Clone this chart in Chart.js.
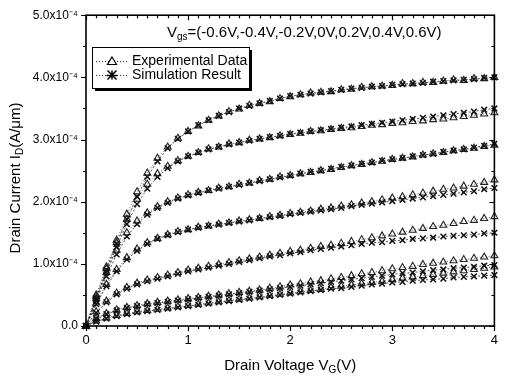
<!DOCTYPE html>
<html>
<head>
<meta charset="utf-8">
<script src="https://cdn.jsdelivr.net/npm/chart.js@4.4.1/dist/chart.umd.min.js"></script>
<style>
html, body { margin: 0; padding: 0; background: #fff; }
#grafico { display: block; }
</style>
</head>
<body>
<canvas id="grafico" width="505" height="381"></canvas>
<script>
// drain voltage sweep (V)
var vd = [0, 0.1, 0.2, 0.3, 0.4, 0.5, 0.6, 0.7, 0.8, 0.9, 1.0, 1.1, 1.2, 1.3, 1.4, 1.5, 1.6, 1.7, 1.8, 1.9, 2.0,
          2.1, 2.2, 2.3, 2.4, 2.5, 2.6, 2.7, 2.8, 2.9, 3.0, 3.1, 3.2, 3.3, 3.4, 3.5, 3.6, 3.7, 3.8, 3.9, 4.0];

// drain current, in units of 1e-4 A/um
var exp06 = [0, 0.5, 0.95, 1.38, 1.8, 2.16, 2.46, 2.7, 2.88, 3.02, 3.13, 3.22, 3.31, 3.38, 3.45, 3.49, 3.55, 3.58, 3.61, 3.66, 3.69, 3.72, 3.75, 3.76, 3.77, 3.8, 3.81, 3.84, 3.85, 3.86, 3.87, 3.9, 3.9, 3.92, 3.92, 3.94, 3.96, 3.95, 3.98, 3.98, 4.0];
var sim06 = [0, 0.45, 0.9, 1.32, 1.72, 2.08, 2.4, 2.65, 2.86, 3.01, 3.13, 3.23, 3.31, 3.38, 3.44, 3.5, 3.54, 3.58, 3.62, 3.66, 3.7, 3.72, 3.74, 3.76, 3.78, 3.8, 3.82, 3.83, 3.85, 3.86, 3.88, 3.89, 3.9, 3.91, 3.93, 3.94, 3.95, 3.96, 3.97, 3.99, 4.0];
var exp04 = [0, 0.47, 0.92, 1.34, 1.72, 2.04, 2.28, 2.45, 2.57, 2.66, 2.73, 2.79, 2.85, 2.88, 2.93, 2.95, 2.99, 3.01, 3.03, 3.06, 3.08, 3.1, 3.13, 3.14, 3.16, 3.18, 3.19, 3.21, 3.23, 3.24, 3.26, 3.27, 3.29, 3.3, 3.32, 3.33, 3.35, 3.37, 3.39, 3.41, 3.43];
var sim04 = [0, 0.43, 0.86, 1.27, 1.64, 1.96, 2.21, 2.4, 2.54, 2.65, 2.73, 2.79, 2.84, 2.88, 2.92, 2.95, 2.98, 3.01, 3.04, 3.06, 3.09, 3.11, 3.13, 3.15, 3.17, 3.19, 3.21, 3.23, 3.25, 3.27, 3.29, 3.31, 3.33, 3.35, 3.37, 3.39, 3.41, 3.43, 3.45, 3.48, 3.5];
var exp02 = [0, 0.44, 0.86, 1.22, 1.5, 1.69, 1.82, 1.92, 2.0, 2.06, 2.11, 2.15, 2.18, 2.22, 2.24, 2.28, 2.3, 2.34, 2.36, 2.4, 2.42, 2.45, 2.47, 2.5, 2.52, 2.55, 2.58, 2.6, 2.63, 2.65, 2.68, 2.7, 2.72, 2.75, 2.77, 2.79, 2.82, 2.84, 2.86, 2.89, 2.91];
var sim02 = [0, 0.4, 0.8, 1.15, 1.44, 1.64, 1.79, 1.9, 1.98, 2.05, 2.1, 2.14, 2.18, 2.21, 2.24, 2.27, 2.3, 2.33, 2.36, 2.39, 2.42, 2.45, 2.48, 2.5, 2.53, 2.56, 2.58, 2.61, 2.63, 2.66, 2.68, 2.7, 2.73, 2.75, 2.77, 2.8, 2.82, 2.84, 2.87, 2.9, 2.93];
var exp00 = [0, 0.37, 0.67, 0.91, 1.1, 1.24, 1.34, 1.41, 1.47, 1.52, 1.55, 1.59, 1.61, 1.64, 1.66, 1.69, 1.71, 1.73, 1.76, 1.78, 1.81, 1.83, 1.85, 1.88, 1.9, 1.93, 1.95, 1.98, 2.0, 2.03, 2.06, 2.08, 2.11, 2.14, 2.17, 2.2, 2.22, 2.25, 2.28, 2.31, 2.35];
var sim00 = [0, 0.35, 0.64, 0.88, 1.07, 1.21, 1.32, 1.4, 1.46, 1.51, 1.55, 1.58, 1.61, 1.63, 1.66, 1.68, 1.7, 1.73, 1.75, 1.77, 1.8, 1.82, 1.84, 1.86, 1.88, 1.9, 1.93, 1.95, 1.97, 1.99, 2.01, 2.03, 2.05, 2.07, 2.09, 2.11, 2.13, 2.15, 2.17, 2.2, 2.22];
var expM02 = [0, 0.23, 0.4, 0.53, 0.62, 0.69, 0.74, 0.78, 0.82, 0.86, 0.9, 0.93, 0.96, 0.99, 1.02, 1.05, 1.08, 1.11, 1.14, 1.17, 1.2, 1.22, 1.25, 1.28, 1.3, 1.33, 1.36, 1.39, 1.42, 1.45, 1.48, 1.51, 1.54, 1.57, 1.6, 1.62, 1.65, 1.68, 1.7, 1.73, 1.76];
var simM02 = [0, 0.21, 0.38, 0.51, 0.6, 0.67, 0.72, 0.76, 0.8, 0.84, 0.88, 0.91, 0.94, 0.97, 1.0, 1.03, 1.06, 1.09, 1.12, 1.14, 1.17, 1.19, 1.22, 1.24, 1.26, 1.28, 1.3, 1.32, 1.34, 1.35, 1.37, 1.38, 1.4, 1.41, 1.42, 1.44, 1.45, 1.46, 1.47, 1.49, 1.5];
var expM04 = [0, 0.12, 0.2, 0.26, 0.3, 0.33, 0.36, 0.38, 0.4, 0.42, 0.44, 0.46, 0.48, 0.5, 0.52, 0.54, 0.56, 0.58, 0.61, 0.63, 0.66, 0.68, 0.71, 0.73, 0.76, 0.78, 0.81, 0.84, 0.86, 0.89, 0.92, 0.94, 0.96, 0.99, 1.01, 1.03, 1.05, 1.07, 1.09, 1.11, 1.13];
var simM04 = [0, 0.11, 0.19, 0.25, 0.29, 0.32, 0.35, 0.37, 0.39, 0.41, 0.43, 0.45, 0.47, 0.49, 0.51, 0.53, 0.55, 0.57, 0.59, 0.61, 0.63, 0.65, 0.67, 0.69, 0.71, 0.73, 0.75, 0.77, 0.79, 0.81, 0.83, 0.85, 0.86, 0.88, 0.9, 0.91, 0.93, 0.94, 0.95, 0.97, 0.98];
var expM06 = [0, 0.08, 0.13, 0.17, 0.2, 0.23, 0.25, 0.27, 0.29, 0.31, 0.33, 0.35, 0.37, 0.39, 0.41, 0.43, 0.45, 0.47, 0.49, 0.51, 0.53, 0.55, 0.57, 0.59, 0.62, 0.64, 0.66, 0.68, 0.7, 0.72, 0.75, 0.77, 0.79, 0.81, 0.83, 0.85, 0.87, 0.89, 0.91, 0.93, 0.95];
var simM06 = [0, 0.07, 0.12, 0.16, 0.19, 0.22, 0.24, 0.26, 0.28, 0.3, 0.32, 0.34, 0.36, 0.38, 0.4, 0.42, 0.44, 0.46, 0.48, 0.5, 0.52, 0.54, 0.56, 0.58, 0.6, 0.61, 0.63, 0.65, 0.67, 0.68, 0.7, 0.71, 0.73, 0.74, 0.75, 0.76, 0.78, 0.79, 0.8, 0.81, 0.82];

var xLabels = ['0', '1', '2', '3', '4'];
var yLabels = ['0.0', '1.0x10\u207B\u2074', '2.0x10\u207B\u2074', '3.0x10\u207B\u2074', '4.0x10\u207B\u2074', '5.0x10\u207B\u2074'];
var vgsText = '=(-0.6V,-0.4V,-0.2V,0V,0.2V,0.4V,0.6V)';
var legendText = ['Experimental Data', 'Simulation Result'];

var experimental = [expM06, expM04, expM02, exp00, exp02, exp04, exp06];
var simulacion = [simM06, simM04, simM02, sim00, sim02, sim04, sim06];

var FAM = '"Liberation Sans", Arial, sans-serif';
Chart.defaults.font.family = FAM;
Chart.defaults.color = '#000';

function puntos(arr) {
    return vd.map(function (v, i) { return { x: v, y: arr[i] }; });
}

var datasets = [];
simulacion.forEach(function (serie) {
    datasets.push({
        data: puntos(serie),
        showLine: true,
        borderColor: '#222',
        borderWidth: 0.8,
        borderDash: [2, 2],
        pointStyle: 'crossRot',
        pointRadius: 4,
        pointBorderWidth: 1.5,
        pointBorderColor: '#111',
        pointBackgroundColor: '#111',
        clip: false
    });
});
experimental.forEach(function (serie) {
    datasets.push({
        data: puntos(serie),
        showLine: true,
        borderColor: '#444',
        borderWidth: 0.8,
        borderDash: [1, 2],
        pointStyle: 'triangle',
        pointRadius: 4,
        pointBorderWidth: 1.1,
        pointBorderColor: '#222',
        pointBackgroundColor: 'rgba(255,255,255,0)',
        clip: false
    });
});

// text with subscript pieces: [[text, isSub], ...]
function textoSub(ctx, partes, x, y, size, align) {
    var subSize = Math.round(size * 0.68);
    var ancho = 0;
    partes.forEach(function (p) {
        ctx.font = (p[1] ? subSize : size) + 'px ' + FAM;
        ancho += ctx.measureText(p[0]).width;
    });
    var cx = align === 'center' ? x - ancho / 2 : x;
    ctx.textAlign = 'left';
    ctx.textBaseline = 'middle';
    partes.forEach(function (p) {
        ctx.font = (p[1] ? subSize : size) + 'px ' + FAM;
        ctx.fillText(p[0], cx, p[1] ? y + size * 0.3 : y);
        cx += ctx.measureText(p[0]).width;
    });
}

var marco = {
    id: 'marco',
    afterDraw: function (chart) {
        var ctx = chart.ctx;
        var a = chart.chartArea;
        var sx = chart.scales.x, sy = chart.scales.y;
        ctx.save();
        ctx.strokeStyle = '#000';
        ctx.fillStyle = '#000';

        // frame
        ctx.lineWidth = 1.6;
        ctx.strokeRect(a.left, a.top, a.right - a.left, a.bottom - a.top);

        // tick marks: outward on bottom/left, inward on top/right
        ctx.lineWidth = 1.2;
        ctx.beginPath();
        for (var i = 0; i <= 40; i++) {
            var px = Math.round(sx.getPixelForValue(i / 10)) + 0.5;
            var len = (i % 10 === 0) ? 5 : 3;
            ctx.moveTo(px, a.bottom); ctx.lineTo(px, a.bottom + len);
            ctx.moveTo(px, a.top); ctx.lineTo(px, a.top + len);
        }
        for (var j = 0; j <= 10; j++) {
            var py = Math.round(sy.getPixelForValue(j / 2)) + 0.5;
            var l2 = (j % 2 === 0) ? 5 : 3;
            ctx.moveTo(a.left, py); ctx.lineTo(a.left - l2, py);
            ctx.moveTo(a.right, py); ctx.lineTo(a.right - l2, py);
        }
        ctx.stroke();

        // axis titles
        textoSub(ctx, [['Drain Voltage V', false], ['G', true], ['(V)', false]], (a.left + a.right) / 2, 366, 15, 'center');
        ctx.save();
        ctx.translate(16, 178);
        ctx.rotate(-Math.PI / 2);
        textoSub(ctx, [['Drain Current I', false], ['D', true], ['(A/\u03BCm)', false]], 0, 0, 15, 'center');
        ctx.restore();

        // gate voltage list
        textoSub(ctx, [['V', false], ['gs', true], [vgsText, false]], 167, 33, 15, 'left');

        // legend box with drop shadow
        var bx = 92, by = 47, bw = 157, bh = 41;
        ctx.fillStyle = '#000';
        ctx.fillRect(bx + 3, by + 3, bw, bh);
        ctx.fillStyle = '#fff';
        ctx.fillRect(bx, by, bw, bh);
        ctx.lineWidth = 1;
        ctx.strokeRect(bx + 0.5, by + 0.5, bw, bh);

        var filas = [61, 75];
        ctx.lineWidth = 0.8;
        ctx.setLineDash([1, 2]);
        filas.forEach(function (fy) {
            ctx.beginPath();
            ctx.moveTo(96, fy + 0.5); ctx.lineTo(128, fy + 0.5);
            ctx.stroke();
        });
        ctx.setLineDash([]);

        // triangle marker
        ctx.lineWidth = 1.2;
        ctx.beginPath();
        ctx.moveTo(112, filas[0] - 4);
        ctx.lineTo(116.5, filas[0] + 3.5);
        ctx.lineTo(107.5, filas[0] + 3.5);
        ctx.closePath();
        ctx.fillStyle = '#fff';
        ctx.fill();
        ctx.stroke();

        // star marker
        var r = 4.5, cy = filas[1];
        ctx.lineWidth = 1.5;
        ctx.beginPath();
        ctx.moveTo(112 - r, cy - r); ctx.lineTo(112 + r, cy + r);
        ctx.moveTo(112 + r, cy - r); ctx.lineTo(112 - r, cy + r);
        ctx.moveTo(112 - r - 1, cy + 0.5); ctx.lineTo(112 + r + 1, cy + 0.5);
        ctx.moveTo(112, cy - r); ctx.lineTo(112, cy + r);
        ctx.stroke();

        ctx.fillStyle = '#000';
        ctx.font = '14px ' + FAM;
        ctx.textAlign = 'left';
        ctx.textBaseline = 'middle';
        ctx.fillText(legendText[0], 132, filas[0]);
        ctx.fillText(legendText[1], 132, filas[1]);

        ctx.restore();
    }
};

var grafico = new Chart(document.getElementById('grafico'), {
    type: 'scatter',
    data: { datasets: datasets },
    options: {
        responsive: false,
        animation: false,
        devicePixelRatio: 1,
        layout: { padding: { top: 12, right: 2, left: 0, bottom: 0 } },
        plugins: {
            legend: { display: false },
            tooltip: { enabled: false }
        },
        scales: {
            x: {
                type: 'linear',
                min: 0,
                max: 4,
                grid: { display: false, drawTicks: false },
                border: { display: false },
                ticks: {
                    stepSize: 1,
                    padding: 7,
                    font: { size: 13 },
                    color: '#000',
                    maxRotation: 0,
                    callback: function (v) { return xLabels[v]; }
                },
                afterFit: function (s) { s.height = 55; }
            },
            y: {
                type: 'linear',
                min: 0,
                max: 5,
                grid: { display: false, drawTicks: false },
                border: { display: false },
                ticks: {
                    stepSize: 1,
                    padding: 8,
                    font: { size: 12 },
                    color: '#000',
                    callback: function (v) { return yLabels[v]; }
                },
                afterFit: function (s) { s.width = 86; }
            }
        }
    },
    plugins: [marco]
});
</script>
</body>
</html>
